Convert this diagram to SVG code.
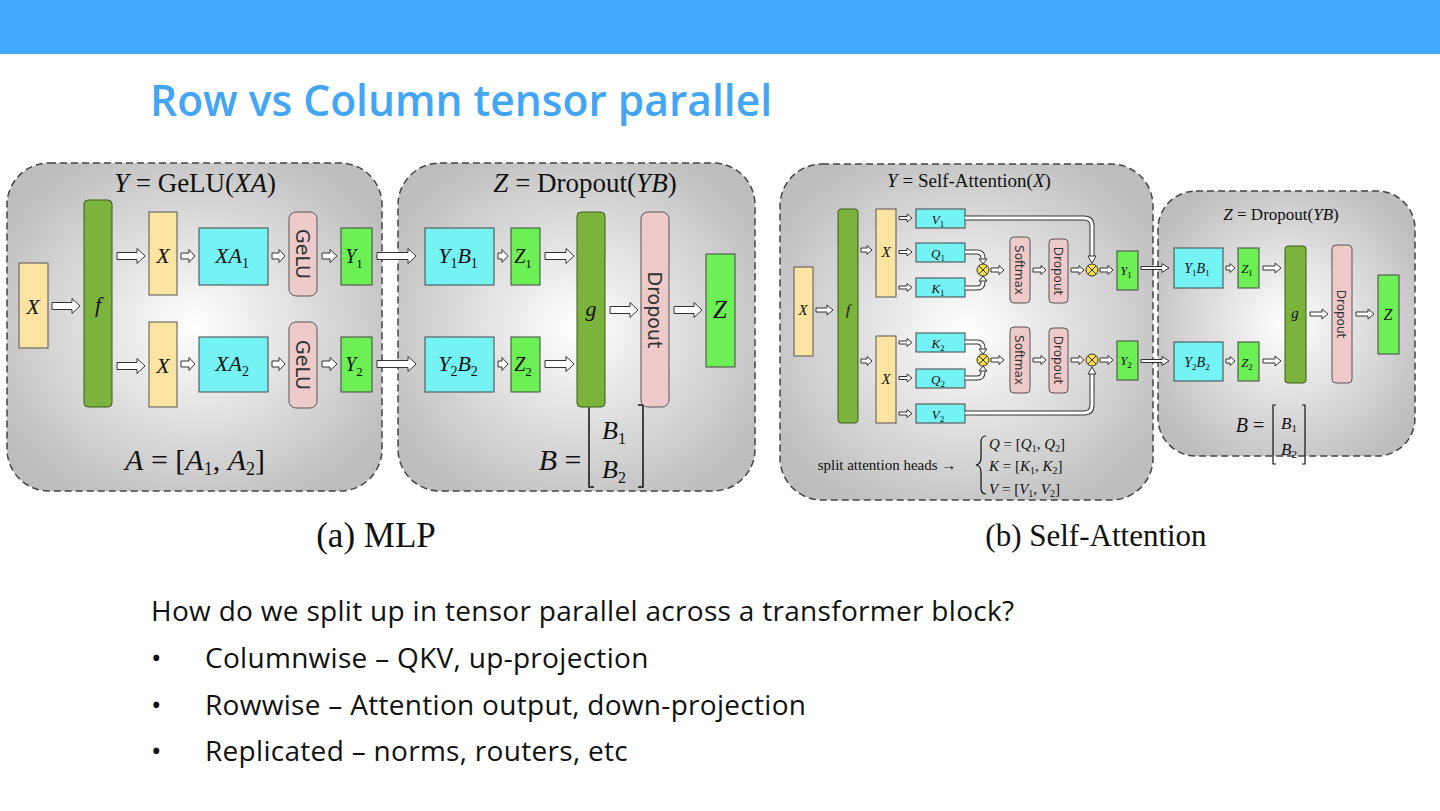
<svg xmlns="http://www.w3.org/2000/svg" width="1440" height="811" viewBox="0 0 1440 811">
<defs>
<radialGradient id="pg" cx="0.5" cy="0.5" r="0.6"><stop offset="0" stop-color="#ffffff"/><stop offset="1" stop-color="#bdbdbd"/></radialGradient>
<style>
.panel{fill:url(#pg);stroke:#444;stroke-width:1.5;stroke-dasharray:7 4}
.yel{fill:#fbe3a2;stroke:#555;stroke-width:1}
.dg{fill:#7bb33c;stroke:#3c5a1c;stroke-width:1}
.cy{fill:#74f2f4;stroke:#444;stroke-width:1}
.pk{fill:#efcaca;stroke:#555;stroke-width:1}
.bg{fill:#6cf055;stroke:#444;stroke-width:1}
.ha{fill:#fff;stroke:#333;stroke-width:1}
.m{font-family:"Liberation Serif",serif;font-style:italic;fill:#111;text-anchor:middle}
.r{font-family:"Liberation Serif",serif;fill:#111;text-anchor:middle}
.st{font-family:"Liberation Serif",serif;fill:#111;text-anchor:start}
.s{font-family:"DejaVu Sans","Liberation Sans",sans-serif;fill:#333;text-anchor:middle}
.cu1{fill:none;stroke:#333;stroke-width:5}
.cu2{fill:none;stroke:#fff;stroke-width:3}
.ox{fill:#f5e04a;stroke:#333;stroke-width:1}
.bt{font-family:"Open Sans","Noto Sans",sans-serif;font-size:28px;letter-spacing:0.3px;fill:#111}
</style>
</defs>
<rect x="0" y="0" width="1440" height="54" fill="#42a8fa"/>
<text x="150" y="116" font-family="Open Sans, Noto Sans, sans-serif" font-weight="600" font-size="42.5" fill="#42a5f5">Row vs Column tensor parallel</text>

<!-- MLP -->
<g id="mlp-panels">
<rect class="panel" x="7" y="163" width="375" height="328" rx="42"/>
<rect class="panel" x="398" y="163" width="357" height="328" rx="42"/>
<text class="r" x="195" y="192" font-size="27"><tspan font-style="italic">Y</tspan> = GeLU(<tspan font-style="italic">XA</tspan>)</text>
<text class="r" x="585" y="192" font-size="27"><tspan font-style="italic">Z</tspan> = Dropout(<tspan font-style="italic">YB</tspan>)</text>
<text class="r" x="195" y="470" font-size="30"><tspan font-style="italic">A</tspan> = [<tspan font-style="italic">A</tspan><tspan font-size="18" dy="5">1</tspan><tspan dy="-5">, </tspan><tspan font-style="italic">A</tspan><tspan font-size="18" dy="5">2</tspan><tspan dy="-5">]</tspan></text>
<text class="r" x="560" y="470" font-size="30"><tspan font-style="italic">B</tspan> =</text>
<path d="M594 405 h-5 v82 h5 M638 405 h5 v82 h-5" fill="none" stroke="#111" stroke-width="1.5"/>
<text class="m" x="614" y="439" font-size="26">B<tspan font-size="16" font-style="normal" dy="5">1</tspan></text>
<text class="m" x="614" y="478" font-size="26">B<tspan font-size="16" font-style="normal" dy="5">2</tspan></text>
</g>
<g id="mlp-nodes">
<g id="m-x"><rect class="yel" x="19" y="263" width="29" height="85"/><text class="m" x="33" y="314" font-size="22">X</text></g>
<g id="m-f"><rect class="dg" x="84" y="200" width="28" height="207" rx="4"/><text class="m" x="98" y="312" font-size="22">f</text></g>
<g id="m-x1"><rect class="yel" x="149" y="212" width="28" height="83"/><text class="m" x="163" y="263" font-size="22">X</text></g>
<g id="m-x2"><rect class="yel" x="149" y="322" width="28" height="85"/><text class="m" x="163" y="373" font-size="22">X</text></g>
<g id="m-xa1"><rect class="cy" x="199" y="228" width="69" height="57"/><text class="m" x="232" y="263" font-size="22">XA<tspan font-size="14" font-style="normal" dy="5">1</tspan></text></g>
<g id="m-xa2"><rect class="cy" x="199" y="337" width="69" height="55"/><text class="m" x="232" y="371" font-size="22">XA<tspan font-size="14" font-style="normal" dy="5">2</tspan></text></g>
<g id="m-gelu1"><rect class="pk" x="289" y="212" width="28" height="84" rx="7"/><text class="s" transform="translate(296 254) rotate(90)" font-size="19">GeLU</text></g>
<g id="m-gelu2"><rect class="pk" x="289" y="322" width="28" height="86" rx="7"/><text class="s" transform="translate(296 365) rotate(90)" font-size="19">GeLU</text></g>
<g id="m-y1"><rect class="bg" x="341" y="228" width="31" height="57"/><text class="m" x="354" y="263" font-size="20">Y<tspan font-size="13" font-style="normal" dy="5">1</tspan></text></g>
<g id="m-y2"><rect class="bg" x="341" y="337" width="31" height="55"/><text class="m" x="354" y="371" font-size="20">Y<tspan font-size="13" font-style="normal" dy="5">2</tspan></text></g>
<g id="m-yb1"><rect class="cy" x="425" y="228" width="69" height="57"/><text class="m" x="458" y="263" font-size="22">Y<tspan font-size="14" font-style="normal" dy="5">1</tspan><tspan dy="-5">B</tspan><tspan font-size="14" font-style="normal" dy="5">1</tspan></text></g>
<g id="m-yb2"><rect class="cy" x="425" y="337" width="69" height="55"/><text class="m" x="458" y="371" font-size="22">Y<tspan font-size="14" font-style="normal" dy="5">2</tspan><tspan dy="-5">B</tspan><tspan font-size="14" font-style="normal" dy="5">2</tspan></text></g>
<g id="m-z1"><rect class="bg" x="511" y="228" width="29" height="57"/><text class="m" x="523" y="263" font-size="20">Z<tspan font-size="13" font-style="normal" dy="5">1</tspan></text></g>
<g id="m-z2"><rect class="bg" x="511" y="337" width="29" height="55"/><text class="m" x="523" y="371" font-size="20">Z<tspan font-size="13" font-style="normal" dy="5">2</tspan></text></g>
<g id="m-g"><rect class="dg" x="577" y="212" width="28" height="195" rx="4"/><text class="m" x="591" y="316" font-size="22">g</text></g>
<g id="m-drop"><rect class="pk" x="641" y="212" width="28" height="195" rx="7"/><text class="s" transform="translate(648 310) rotate(90)" font-size="19">Dropout</text></g>
<g id="m-z"><rect class="bg" x="706" y="254" width="29" height="113"/><text class="m" x="720" y="318" font-size="25">Z</text></g>
</g>
<g id="mlp-connectors">
<path class="ha" d="M52 302.5H72V298.5L80 306L72 313.5V309.5H52Z"/>
<path class="ha" d="M117 252.5H137V248.5L145 256L137 263.5V259.5H117Z"/>
<path class="ha" d="M117 362.5H137V358.5L145 366L137 373.5V369.5H117Z"/>
<path class="ha" d="M181 253H189V249.5L195 256L189 262.5V259H181Z"/>
<path class="ha" d="M181 361H189V357.5L195 364L189 370.5V367H181Z"/>
<path class="ha" d="M272 253H279V249.5L285 256L279 262.5V259H272Z"/>
<path class="ha" d="M272 361H279V357.5L285 364L279 370.5V367H272Z"/>
<path class="ha" d="M322 253H330V249.5L337 256L330 262.5V259H322Z"/>
<path class="ha" d="M322 361H330V357.5L337 364L330 370.5V367H322Z"/>
<path class="ha" d="M377 252.5H408V248.5L416 256L408 263.5V259.5H377Z"/>
<path class="ha" d="M377 360.5H408V356.5L416 364L408 371.5V367.5H377Z"/>
<path class="ha" d="M498 253H502V249.5L508 256L502 262.5V259H498Z"/>
<path class="ha" d="M498 361H502V357.5L508 364L502 370.5V367H498Z"/>
<path class="ha" d="M545 252.5H566V248.5L574 256L566 263.5V259.5H545Z"/>
<path class="ha" d="M545 360.5H566V356.5L574 364L566 371.5V367.5H545Z"/>
<path class="ha" d="M610 306.5H630V302.5L638 310L630 317.5V313.5H610Z"/>
<path class="ha" d="M674 306.5H694V302.5L702 310L694 317.5V313.5H674Z"/>
</g>

<!-- Self-Attention -->
<g id="att-panels">
<rect class="panel" x="780" y="164" width="373" height="336" rx="42"/>
<rect class="panel" x="1158" y="191" width="257" height="265" rx="38"/>
<text class="r" x="969" y="187" font-size="19"><tspan font-style="italic">Y</tspan> = Self-Attention(<tspan font-style="italic">X</tspan>)</text>
<text class="r" x="1281" y="220" font-size="17"><tspan font-style="italic">Z</tspan> = Dropout(<tspan font-style="italic">YB</tspan>)</text>
<text class="r" x="1250" y="432" font-size="20"><tspan font-style="italic">B</tspan> =</text>
<path d="M1276 405 h-3 v59 h3 M1302 405 h3 v59 h-3" fill="none" stroke="#111" stroke-width="1.2"/>
<text class="m" x="1289" y="429" font-size="17">B<tspan font-size="11" font-style="normal" dy="3">1</tspan></text>
<text class="m" x="1289" y="455" font-size="17">B<tspan font-size="11" font-style="normal" dy="3">2</tspan></text>
<text class="r" x="887" y="470" font-size="15">split attention heads →</text>
<path d="M986 436 q-5 0 -5 6 v16 q0 6 -5 7 q5 1 5 7 v16 q0 6 5 6" fill="none" stroke="#111" stroke-width="1.2"/>
<text class="st" x="989" y="449" font-size="15"><tspan font-style="italic">Q</tspan> = [<tspan font-style="italic">Q</tspan><tspan font-size="10" dy="3">1</tspan><tspan dy="-3">, </tspan><tspan font-style="italic">Q</tspan><tspan font-size="10" dy="3">2</tspan><tspan dy="-3">]</tspan></text>
<text class="st" x="989" y="471" font-size="15"><tspan font-style="italic">K</tspan> = [<tspan font-style="italic">K</tspan><tspan font-size="10" dy="3">1</tspan><tspan dy="-3">, </tspan><tspan font-style="italic">K</tspan><tspan font-size="10" dy="3">2</tspan><tspan dy="-3">]</tspan></text>
<text class="st" x="989" y="494" font-size="15"><tspan font-style="italic">V</tspan> = [<tspan font-style="italic">V</tspan><tspan font-size="10" dy="3">1</tspan><tspan dy="-3">, </tspan><tspan font-style="italic">V</tspan><tspan font-size="10" dy="3">2</tspan><tspan dy="-3">]</tspan></text>
</g>
<g id="att-nodes">
<g id="a-x"><rect class="yel" x="794" y="267" width="19" height="89"/><text class="m" x="803" y="315" font-size="15">X</text></g>
<g id="a-f"><rect class="dg" x="838" y="209" width="20" height="214" rx="3"/><text class="m" x="848" y="315" font-size="15">f</text></g>
<g id="a-x1"><rect class="yel" x="876" y="209" width="20" height="88"/><text class="m" x="886" y="257" font-size="15">X</text></g>
<g id="a-x2"><rect class="yel" x="876" y="336" width="20" height="87"/><text class="m" x="886" y="384" font-size="15">X</text></g>
<g id="a-v1"><rect class="cy" x="916" y="209" width="49" height="19"/><text class="m" x="938" y="224" font-size="13">V<tspan font-size="9" font-style="normal" dy="3">1</tspan></text></g>
<g id="a-q1"><rect class="cy" x="916" y="243" width="49" height="19"/><text class="m" x="938" y="258" font-size="13">Q<tspan font-size="9" font-style="normal" dy="3">1</tspan></text></g>
<g id="a-k1"><rect class="cy" x="916" y="278" width="49" height="19"/><text class="m" x="938" y="293" font-size="13">K<tspan font-size="9" font-style="normal" dy="3">1</tspan></text></g>
<g id="a-k2"><rect class="cy" x="916" y="333" width="49" height="19"/><text class="m" x="938" y="348" font-size="13">K<tspan font-size="9" font-style="normal" dy="3">2</tspan></text></g>
<g id="a-q2"><rect class="cy" x="916" y="369" width="49" height="19"/><text class="m" x="938" y="384" font-size="13">Q<tspan font-size="9" font-style="normal" dy="3">2</tspan></text></g>
<g id="a-v2"><rect class="cy" x="916" y="404" width="49" height="19"/><text class="m" x="938" y="419" font-size="13">V<tspan font-size="9" font-style="normal" dy="3">2</tspan></text></g>
<g id="a-ox1"><circle class="ox" cx="983" cy="270" r="6"/><path d="M979 266l8 8M987 266l-8 8" stroke="#333" stroke-width="1"/></g>
<g id="a-ox2"><circle class="ox" cx="983" cy="360" r="6"/><path d="M979 356l8 8M987 356l-8 8" stroke="#333" stroke-width="1"/></g>
<g id="a-ox3"><circle class="ox" cx="1092" cy="270" r="6"/><path d="M1088 266l8 8M1096 266l-8 8" stroke="#333" stroke-width="1"/></g>
<g id="a-ox4"><circle class="ox" cx="1092" cy="360" r="6"/><path d="M1088 356l8 8M1096 356l-8 8" stroke="#333" stroke-width="1"/></g>
<g id="a-sm1"><rect class="pk" x="1010" y="237" width="20" height="66" rx="4"/><text class="s" transform="translate(1015 270) rotate(90)" font-size="12">Softmax</text></g>
<g id="a-sm2"><rect class="pk" x="1010" y="327" width="20" height="66" rx="4"/><text class="s" transform="translate(1015 360) rotate(90)" font-size="12">Softmax</text></g>
<g id="a-dr1"><rect class="pk" x="1049" y="239" width="19" height="64" rx="4"/><text class="s" transform="translate(1054 271) rotate(90)" font-size="12">Dropout</text></g>
<g id="a-dr2"><rect class="pk" x="1049" y="328" width="19" height="65" rx="4"/><text class="s" transform="translate(1054 360) rotate(90)" font-size="12">Dropout</text></g>
<g id="a-y1"><rect class="bg" x="1117" y="251" width="21" height="39"/><text class="m" x="1126" y="275" font-size="13">Y<tspan font-size="9" font-style="normal" dy="3">1</tspan></text></g>
<g id="a-y2"><rect class="bg" x="1117" y="341" width="21" height="39"/><text class="m" x="1126" y="365" font-size="13">Y<tspan font-size="9" font-style="normal" dy="3">2</tspan></text></g>
<g id="a-yb1"><rect class="cy" x="1174" y="248" width="49" height="40"/><text class="m" x="1197" y="273" font-size="14">Y<tspan font-size="9" font-style="normal" dy="3">1</tspan><tspan dy="-3">B</tspan><tspan font-size="9" font-style="normal" dy="3">1</tspan></text></g>
<g id="a-yb2"><rect class="cy" x="1174" y="342" width="49" height="39"/><text class="m" x="1197" y="367" font-size="14">Y<tspan font-size="9" font-style="normal" dy="3">2</tspan><tspan dy="-3">B</tspan><tspan font-size="9" font-style="normal" dy="3">2</tspan></text></g>
<g id="a-z1"><rect class="bg" x="1238" y="248" width="21" height="40"/><text class="m" x="1247" y="273" font-size="13">Z<tspan font-size="9" font-style="normal" dy="3">1</tspan></text></g>
<g id="a-z2"><rect class="bg" x="1238" y="342" width="21" height="39"/><text class="m" x="1247" y="367" font-size="13">Z<tspan font-size="9" font-style="normal" dy="3">2</tspan></text></g>
<g id="a-g"><rect class="dg" x="1285" y="246" width="21" height="137" rx="3"/><text class="m" x="1295" y="318" font-size="15">g</text></g>
<g id="a-dr"><rect class="pk" x="1332" y="245" width="20" height="138" rx="4"/><text class="s" transform="translate(1337 314) rotate(90)" font-size="12">Dropout</text></g>
<g id="a-z"><rect class="bg" x="1378" y="275" width="21" height="79"/><text class="m" x="1388" y="320" font-size="16">Z</text></g>
</g>
<g id="att-connectors">
<path class="ha" d="M816 308H827V305L833 310L827 315V312H816Z"/>
<path class="ha" d="M861 248H867V245.5L872 250L867 254.5V252H861Z"/>
<path class="ha" d="M861 359H867V356.5L872 361L867 365.5V363H861Z"/>
<path class="ha" d="M899 216.5H907V214L912 218L907 222V219.5H899Z"/>
<path class="ha" d="M899 250.5H907V248L912 252L907 256V253.5H899Z"/>
<path class="ha" d="M899 286H907V283.5L912 287.5L907 291.5V289H899Z"/>
<path class="ha" d="M899 341H907V338.5L912 342.5L907 346.5V344H899Z"/>
<path class="ha" d="M899 376.5H907V374L912 378L907 382V379.5H899Z"/>
<path class="ha" d="M899 412H907V409.5L912 413.5L907 417.5V415H899Z"/>
<path class="cu1" d="M965 252H977Q983 252 983 258V260"/><path class="cu2" d="M965 252H977Q983 252 983 258V260"/>
<path class="cu1" d="M965 288H977Q983 288 983 282V280"/><path class="cu2" d="M965 288H977Q983 288 983 282V280"/>
<path class="cu1" d="M965 342H977Q983 342 983 348V350"/><path class="cu2" d="M965 342H977Q983 342 983 348V350"/>
<path class="cu1" d="M965 378H977Q983 378 983 372V370"/><path class="cu2" d="M965 378H977Q983 378 983 372V370"/>
<path class="cu1" d="M965 218H1084Q1092 218 1092 226V256"/><path class="cu2" d="M965 218H1084Q1092 218 1092 226V256"/>
<path class="cu1" d="M965 413H1084Q1092 413 1092 405V374"/><path class="cu2" d="M965 413H1084Q1092 413 1092 405V374"/>
<path class="ha" d="M979 259L987 259L983 264Z"/>
<path class="ha" d="M979 281L987 281L983 276Z"/>
<path class="ha" d="M979 349L987 349L983 354Z"/>
<path class="ha" d="M979 371L987 371L983 366Z"/>
<path class="ha" d="M1088 256L1096 256L1092 263Z"/>
<path class="ha" d="M1088 374L1096 374L1092 367Z"/>
<path class="ha" d="M991 268H999V265.5L1004 270L999 274.5V272H991Z"/>
<path class="ha" d="M991 358H999V355.5L1004 360L999 364.5V362H991Z"/>
<path class="ha" d="M1033 268H1041V265.5L1046 270L1041 274.5V272H1033Z"/>
<path class="ha" d="M1033 358H1041V355.5L1046 360L1041 364.5V362H1033Z"/>
<path class="ha" d="M1071 268H1079V265.5L1084 270L1079 274.5V272H1071Z"/>
<path class="ha" d="M1071 358H1079V355.5L1084 360L1079 364.5V362H1071Z"/>
<path class="ha" d="M1100 268H1108V265.5L1113 270L1108 274.5V272H1100Z"/>
<path class="ha" d="M1100 358H1108V355.5L1113 360L1108 364.5V362H1100Z"/>
<path class="ha" d="M1141 266.5H1162V263.5L1169 268L1162 272.5V269.5H1141Z"/>
<path class="ha" d="M1141 359.5H1162V356.5L1169 361L1162 365.5V362.5H1141Z"/>
<path class="ha" d="M1226 266H1230V263.5L1235 268L1230 272.5V270H1226Z"/>
<path class="ha" d="M1226 359H1230V356.5L1235 361L1230 365.5V363H1226Z"/>
<path class="ha" d="M1263 266H1275V263L1281 268L1275 273V270H1263Z"/>
<path class="ha" d="M1263 359H1275V356L1281 361L1275 366V363H1263Z"/>
<path class="ha" d="M1310 312H1322V309L1328 314L1322 319V316H1310Z"/>
<path class="ha" d="M1356 312H1368V309L1374 314L1368 319V316H1356Z"/>
</g>

<text class="r" x="376" y="547" font-size="35">(a) MLP</text>
<text class="r" x="1096" y="546" font-size="31">(b) Self-Attention</text>

<text class="bt" x="151" y="621">How do we split up in tensor parallel across a transformer block?</text>
<text class="bt" x="151" y="668">•</text><text class="bt" x="205" y="668">Columnwise – QKV, up-projection</text>
<text class="bt" x="151" y="715">•</text><text class="bt" x="205" y="715">Rowwise – Attention output, down-projection</text>
<text class="bt" x="151" y="761">•</text><text class="bt" x="205" y="761">Replicated – norms, routers, etc</text>
</svg>
